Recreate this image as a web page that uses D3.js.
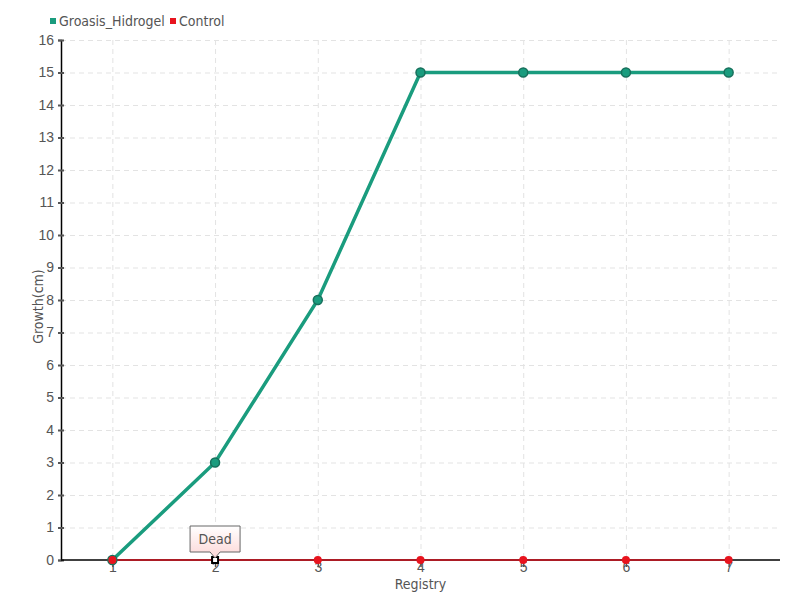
<!DOCTYPE html>
<html>
<head>
<meta charset="utf-8">
<script src="https://cdn.jsdelivr.net/npm/d3@7"></script>
<style>
  body { margin: 0; background: #fff; }
  svg { font-family: "DejaVu Sans Condensed", "Liberation Sans Narrow", "DejaVu Sans", sans-serif; font-stretch: condensed; }
  .grid line { stroke: #e3e3e3; stroke-dasharray: 5,4; }
  .grid path { display: none; }
  .axis text { fill: #555; font-size: 14px; }
</style>
</head>
<body>
<svg></svg>
<script>
// registry numbers on the x axis
var registries = [1, 2, 3, 4, 5, 6, 7];
var groasis = [0, 3, 8, 15, 15, 15, 15];
var control = [0, 0, 0, 0, 0, 0, 0];
var yTicks = d3.range(0, 17); // 0..16
var seriesNames = ["Groasis_Hidrogel", "Control"];

var svgWidth = 800, svgHeight = 600;
var margin = {left: 61, right: 20, top: 40, bottom: 40};

var svg = d3.select('svg')
    .attr("width", svgWidth)
    .attr("height", svgHeight);

var xScale = d3.scalePoint()
    .domain(registries)
    .range([margin.left, svgWidth - margin.right])
    .padding(0.5);

var yScale = d3.scaleLinear()
    .domain([0, 16])
    .range([svgHeight - margin.bottom, margin.top]);

// grid
svg.append("g").attr("class", "grid")
    .attr("transform", "translate(0," + margin.top + ")")
    .call(d3.axisBottom(xScale).tickSize(yScale(0) - margin.top).tickFormat(""));
svg.append("g").attr("class", "grid")
    .attr("transform", "translate(" + margin.left + ",0)")
    .call(d3.axisRight(yScale).tickValues(yTicks.slice(1)).tickSize(svgWidth - margin.right - margin.left).tickFormat(""));

// y axis
var yAxis = svg.append("g").attr("class", "axis")
    .attr("transform", "translate(" + margin.left + ",0)")
    .call(d3.axisLeft(yScale).tickValues(yTicks).tickSize(3).tickPadding(4));
yAxis.select(".domain").attr("stroke", "#000").attr("stroke-width", 1.5);
yAxis.selectAll(".tick line").attr("stroke", "#555").attr("stroke-width", 2).attr("x2", 3).attr("x1", -3);

// x axis
var xAxis = svg.append("g").attr("class", "axis")
    .attr("transform", "translate(0," + yScale(0) + ")")
    .call(d3.axisBottom(xScale).tickSize(7).tickPadding(-5).tickSizeOuter(0));
xAxis.select(".domain").attr("stroke", "#000").attr("stroke-width", 1.5)
    .attr("d", "M" + margin.left + ",0H" + (svgWidth - margin.right));
xAxis.selectAll(".tick line").attr("stroke", "#555").attr("stroke-width", 1.5);

// axis titles
svg.append("text")
    .attr("x", xScale(4)).attr("y", 589)
    .attr("text-anchor", "middle").attr("fill", "#555").attr("font-size", 14)
    .text("Registry");
svg.append("text")
    .attr("transform", "translate(43," + yScale(7.8) + ") rotate(-90)")
    .attr("text-anchor", "middle").attr("fill", "#555").attr("font-size", 14)
    .text("Growth(cm)");

var line = d3.line()
    .x(function(d, i) { return xScale(registries[i]); })
    .y(function(d) { return yScale(d); });

// control series
svg.append("path").datum(control)
    .attr("d", line).attr("fill", "none")
    .attr("stroke", "#d0101c").attr("stroke-width", 1.5);

// groasis series
svg.append("path").datum(groasis)
    .attr("d", line).attr("fill", "none")
    .attr("stroke", "#1a9c7e").attr("stroke-width", 3.5);
svg.selectAll(".gp").data(groasis).enter().append("circle")
    .attr("class", "gp")
    .attr("cx", function(d, i) { return xScale(registries[i]); })
    .attr("cy", function(d) { return yScale(d); })
    .attr("r", 4.5)
    .attr("fill", "#1a9c7e").attr("stroke", "#17705c").attr("stroke-width", 1.5);

svg.selectAll(".cp").data(control).enter().append("circle")
    .attr("class", "cp")
    .attr("cx", function(d, i) { return xScale(registries[i]); })
    .attr("cy", function(d) { return yScale(d); })
    .attr("r", 4)
    .attr("fill", "#e8141e");

// highlighted point with tooltip
var hx = xScale(registries[1]), hy = yScale(control[1]);
svg.append("rect")
    .attr("x", hx - 3).attr("y", hy - 3).attr("width", 6).attr("height", 6)
    .attr("fill", "#fff").attr("stroke", "#000").attr("stroke-width", 2);

var grad = svg.append("defs").append("linearGradient")
    .attr("id", "tip").attr("x1", 0).attr("y1", 0).attr("x2", 0).attr("y2", 1);
grad.append("stop").attr("offset", "0%").attr("stop-color", "#fff");
grad.append("stop").attr("offset", "100%").attr("stop-color", "#fcd6d6");

var tw = 50, th = 26, ty = hy - 34;
svg.append("path")
    .attr("d", "M" + (hx - tw / 2) + "," + ty + "h" + tw + "v" + th + "h-20l-5,6l-5,-6h-20z")
    .attr("fill", "url(#tip)").attr("stroke", "#666").attr("stroke-width", 1);
svg.append("text")
    .attr("x", hx).attr("y", ty + 18)
    .attr("text-anchor", "middle").attr("fill", "#555").attr("font-size", 14)
    .text("Dead");

// legend
var legendColors = ["#1a9c7e", "#e8141e"];
var legendX = [50, 170];
var legend = svg.selectAll(".legend").data(seriesNames).enter().append("g")
    .attr("transform", function(d, i) { return "translate(" + legendX[i] + ",22)"; });
legend.append("rect")
    .attr("x", 0).attr("y", -4).attr("width", 6).attr("height", 6)
    .attr("fill", function(d, i) { return legendColors[i]; });
legend.append("text")
    .attr("x", 9).attr("y", 4)
    .attr("fill", "#555").attr("font-size", 14)
    .text(function(d) { return d; });
</script>
</body>
</html>
